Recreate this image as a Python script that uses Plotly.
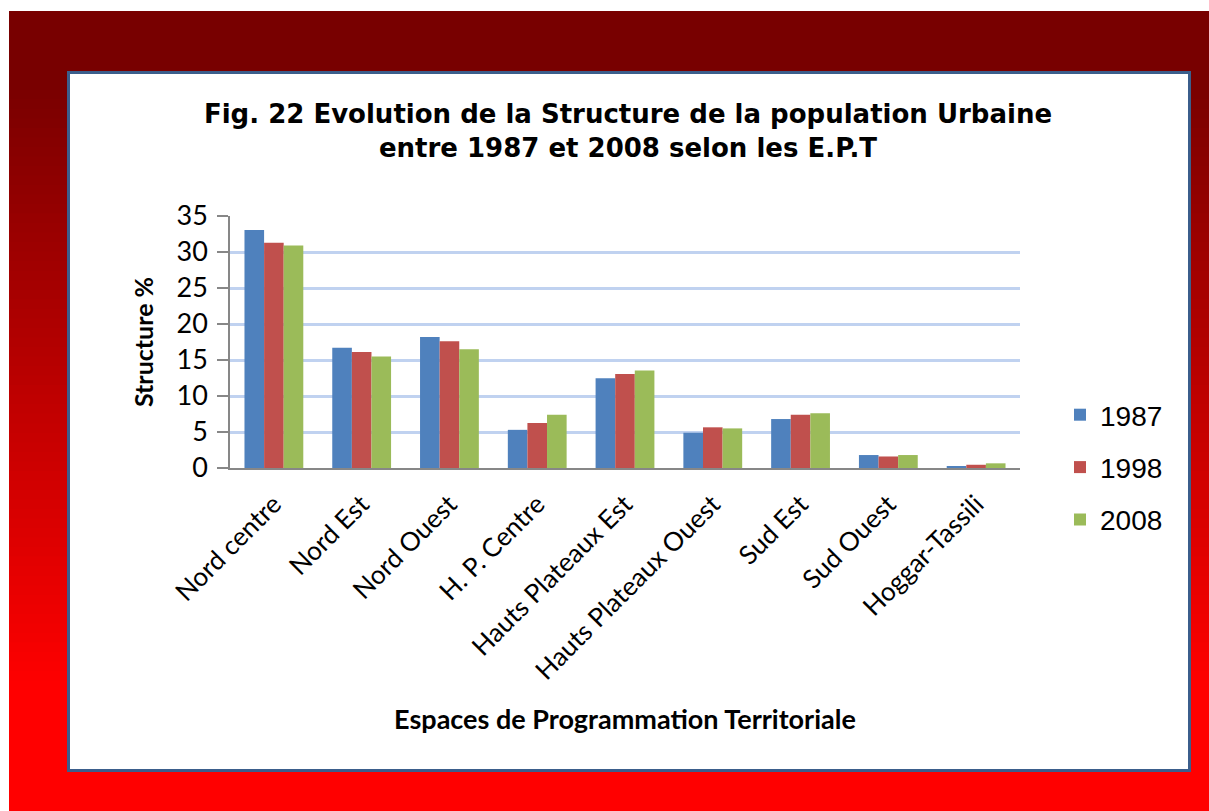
import plotly.graph_objects as go

categories = ["Nord centre", "Nord Est", "Nord Ouest", "H. P. Centre", "Hauts Plateaux Est",
              "Hauts Plateaux Ouest", "Sud Est", "Sud Ouest", "Hoggar-Tassili"]
v1987 = [33.05, 16.7, 18.2, 5.3, 12.45, 4.9, 6.8, 1.8, 0.25]
v1998 = [31.3, 16.1, 17.6, 6.25, 13.05, 5.65, 7.4, 1.6, 0.45]
v2008 = [30.9, 15.5, 16.5, 7.4, 13.55, 5.5, 7.6, 1.8, 0.65]
series_names = ["1987", "1998", "2008"]
colors = ["#4F81BD", "#C0504D", "#9BBB59"]

W, H = 1209, 811
L, R, T, B = 230, 1020, 216, 468  # plot area pixels


def px(x):
    return (x - L) / (R - L)


def py(y):
    return (B - y) / (B - T)


fig = go.Figure()
for name, vals, c in zip(series_names, [v1987, v1998, v2008], colors):
    fig.add_trace(go.Bar(x=categories, y=vals, name=name, marker_color=c,
                         marker_line_width=0, legendgroup=name))

shapes = []
# red gradient background
y0, y1 = 80, 690
c0, c1 = 0x78, 0xFF
steps = 64
shapes.append(dict(type="rect", xref="paper", yref="paper", x0=px(9), x1=px(W + 5),
                   y0=py(11), y1=py(y0), fillcolor="rgb(120,0,0)", line_width=0, layer="below"))
for i in range(steps):
    ya = y0 + (y1 - y0) * i / steps
    yb = y0 + (y1 - y0) * (i + 1) / steps + 0.8
    r = int(round(c0 + (c1 - c0) * (i + 0.5) / steps))
    shapes.append(dict(type="rect", xref="paper", yref="paper", x0=px(9), x1=px(W + 5),
                       y0=py(ya), y1=py(yb), fillcolor=f"rgb({r},0,0)", line_width=0, layer="below"))
shapes.append(dict(type="rect", xref="paper", yref="paper", x0=px(9), x1=px(W + 5),
                   y0=py(y1), y1=py(H + 5), fillcolor="rgb(255,0,0)", line_width=0, layer="below"))
# white chart box with blue border
shapes.append(dict(type="rect", xref="paper", yref="paper", x0=px(68.5), x1=px(1189.5),
                   y0=py(72.5), y1=py(770.5), fillcolor="white",
                   line=dict(color="#3B5E8C", width=3), layer="below"))

fig.update_layout(
    width=W, height=H,
    margin=dict(l=L, r=W - R, t=T, b=H - B, pad=0),
    paper_bgcolor="white", plot_bgcolor="rgba(0,0,0,0)",
    barmode="group", bargap=0.33, bargroupgap=0,
    shapes=shapes,
    title=dict(text="Fig. 22 Evolution de la Structure de la population Urbaine<br>entre 1987 et 2008 selon les E.P.T",
               x=628 / W, xref="container", xanchor="center",
               y=1 - 123 / H, yref="container", yanchor="top",
               font=dict(family="DejaVu Sans", size=26, color="black", weight="bold")),
    font=dict(family="Lato", color="black"),
    legend=dict(x=1060 / W, xref="container", y=1 - 390 / H, yref="container",
                xanchor="left", yanchor="top",
                font=dict(family="Liberation Sans", size=28, color="black"),
                tracegroupgap=13, bgcolor="rgba(0,0,0,0)", itemwidth=30),
)

fig.update_yaxes(range=[0, 35], dtick=5, tick0=0, showgrid=True, gridcolor="#C0D2F0", gridwidth=2.5,
                 showline=True, linecolor="#878787", linewidth=1.5,
                 ticks="outside", ticklen=11, tickcolor="#878787", tickwidth=1.5,
                 tickfont=dict(family="Lato", size=27, color="black"),
                 ticklabelstandoff=4,
                 zeroline=False,
                 title=dict(text="Structure %", standoff=16,
                            font=dict(family="Lato", size=25, color="black", weight="bold")))
fig.update_xaxes(showline=True, linecolor="#878787", linewidth=1.5, ticks="",
                 tickangle=-45, tickfont=dict(family="Lato", size=26, color="black"),
                 ticklabelstandoff=9,
                 title=dict(text="Espaces de Programmation Territoriale", standoff=25,
                            font=dict(family="Lato", size=27, color="black", weight="bold")))

fig.write_html("out.html", config={"displayModeBar": False},
               post_script="document.body.style.margin='0';")
